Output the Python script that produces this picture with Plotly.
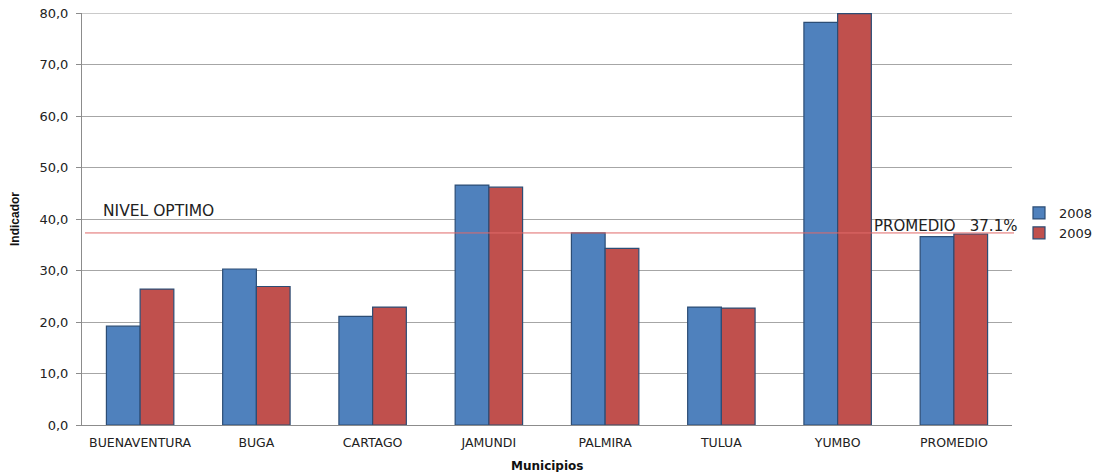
import plotly.graph_objects as go

categories = ["BUENAVENTURA", "BUGA", "CARTAGO", "JAMUNDI", "PALMIRA", "TULUA", "YUMBO", "PROMEDIO"]
values_2008 = [19.2, 30.3, 21.1, 46.6, 37.3, 22.9, 78.2, 36.6]
values_2009 = [26.4, 26.9, 22.9, 46.2, 34.3, 22.7, 79.9, 37.1]
nivel_optimo = 37.3
y_ticks = [0, 10, 20, 30, 40, 50, 60, 70, 80]

# page body has an 8px default margin; size figure to fit the window exactly
OFF = 8
W, H = 1102 - OFF, 472 - OFF
PLOT_L, PLOT_R, PLOT_T, PLOT_B = 82, 1012, 13, 425  # in window pixels
L = PLOT_L - OFF
T = PLOT_T - OFF
B = H - (PLOT_B - OFF)
PW = W - L  # paper width (r margin = 0)
PH = H - T - B

def px(x):
    return (x - OFF - L) / PW

def py(y):
    return (H - B - (y - OFF)) / PH

fig = go.Figure()
fig.add_trace(go.Bar(name="2008", x=categories, y=values_2008,
                     marker=dict(color="#4F81BD", line=dict(color="#2C4D75", width=1.2))))
fig.add_trace(go.Bar(name="2009", x=categories, y=values_2009,
                     marker=dict(color="#C0504D", line=dict(color="#2C4D75", width=1.2))))

# top gridline (at the range edge)
fig.add_shape(type="line", xref="paper", yref="y", x0=0, x1=px(PLOT_R),
              y0=y_ticks[-1], y1=y_ticks[-1], line=dict(color="#A6A6A6", width=1), layer="below")

fig.add_shape(type="line", xref="paper", yref="y", x0=px(85), x1=px(1014),
              y0=nivel_optimo, y1=nivel_optimo, line=dict(color="#E06A6A", width=1))

fig.add_annotation(xref="paper", yref="y", x=px(101), y=41.6, text="NIVEL OPTIMO",
                   showarrow=False, xanchor="left", yanchor="middle",
                   font=dict(family="DejaVu Sans, Verdana", size=15.5, color="#222"))
fig.add_annotation(xref="paper", yref="y", x=px(872), y=38.7, text="PROMEDIO&nbsp;&nbsp;&nbsp;37.1%",
                   showarrow=False, xanchor="left", yanchor="middle",
                   font=dict(family="DejaVu Sans, Verdana", size=15, color="#222"))

fig.add_annotation(xref="paper", yref="paper", x=px(15), y=py(219),
                   text="<b>Indicador</b>", textangle=-90, showarrow=False,
                   xanchor="center", yanchor="middle",
                   font=dict(family="Liberation Sans Narrow, Arial Narrow, Liberation Sans", size=12, color="#111"))
fig.add_annotation(xref="paper", yref="paper", x=px(547), y=py(466),
                   text="<b>Municipios</b>", showarrow=False,
                   xanchor="center", yanchor="middle",
                   font=dict(family="DejaVu Sans, Verdana", size=12, color="#111"))

fig.update_layout(
    width=W, height=H,
    margin=dict(l=L, r=0, t=T, b=B, autoexpand=False),
    paper_bgcolor="white", plot_bgcolor="white",
    barmode="group", bargap=0.42, bargroupgap=0.0,
    separators=",.",
    font=dict(family="DejaVu Sans, Verdana", color="#222"),
    showlegend=True,
    legend=dict(x=px(1019), y=py(223), xanchor="left", yanchor="middle",
                font=dict(size=13, family="DejaVu Sans, Verdana"),
                bgcolor="rgba(0,0,0,0)", tracegroupgap=0),
    xaxis=dict(domain=[0, px(PLOT_R)], automargin=False,
               showline=True, linecolor="#8C8C8C", linewidth=1, ticks="",
               ticklabelstandoff=6,
               tickfont=dict(size=12.5), showgrid=False),
    yaxis=dict(range=[0, 80.02], tickvals=y_ticks, tickformat=".1f", automargin=False,
               showline=True, linecolor="#8C8C8C", linewidth=1,
               ticks="outside", ticklen=5, tickcolor="#8C8C8C",
               ticklabelstandoff=5, ticklabeloverflow="allow",
               showgrid=True, gridcolor="#A6A6A6", gridwidth=1,
               tickfont=dict(size=13), zeroline=False),
)

fig.write_html("out.html")
